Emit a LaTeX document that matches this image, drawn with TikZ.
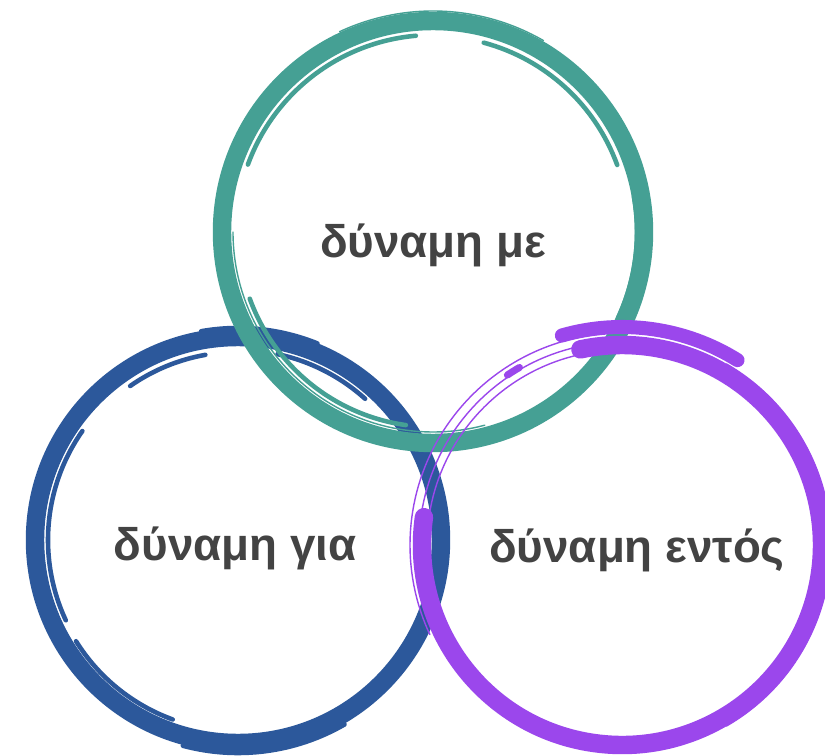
\documentclass[tikz,border=0pt]{standalone}
\usepackage{fontspec}
\setmainfont{Liberation Sans}
\usepackage{tikz}
\usepackage{xcolor}
\definecolor{Teal}{HTML}{45A094}
\definecolor{Navy}{HTML}{2C589B}
\definecolor{Violet}{HTML}{9B47EC}
\definecolor{Ink}{HTML}{434343}
\tikzset{
  band/.style={line width=10.5pt,line cap=round},
  streak/.style={line width=2.6pt,line cap=round},
  hair/.style={line width=0.8pt,line cap=round},
  ringtext/.style={font=\fontsize{26}{30}\selectfont\bfseries,text=Ink,inner sep=0pt}
}

\begin{document}
\begin{tikzpicture}[x=0.02cm,y=0.02cm]
  \useasboundingbox[fill=white] (0,0) rectangle (825,755);
  \coordinate (gia) at (238,215);
  \coordinate (me) at (433,523);
  \coordinate (entos) at (622,210);

  \draw[band,Navy] (gia) circle[radius=203];
  \draw[streak,Navy] (gia) ++(68:212) arc[start angle=68,end angle=100,radius=212];
  \draw[streak,Navy] (gia) ++(48:190) arc[start angle=48,end angle=78,radius=190];
  \draw[streak,Navy] (gia) ++(100:188) arc[start angle=100,end angle=125,radius=188];
  \draw[streak,Navy] (gia) ++(145:190) arc[start angle=145,end angle=205,radius=190];
  \draw[streak,Navy] (gia) ++(212:191) arc[start angle=212,end angle=250,radius=191];
  \draw[streak,Navy] (gia) ++(255:213) arc[start angle=255,end angle=300,radius=213];
  \draw[hair,Navy] (gia) ++(-10:196) arc[start angle=-10,end angle=60,radius=196];
  \draw[hair,Navy] (gia) ++(125:195) arc[start angle=125,end angle=230,radius=195];

  \draw[band,Teal] (me) circle[radius=211];
  \draw[streak,Teal] (me) ++(95:197) arc[start angle=95,end angle=160,radius=197];
  \draw[streak,Teal] (me) ++(20:196) arc[start angle=20,end angle=75,radius=196];
  \draw[streak,Teal] (me) ++(200:195) arc[start angle=200,end angle=262,radius=195];
  \draw[hair,Teal] (me) ++(180:200) arc[start angle=180,end angle=285,radius=200];
  \draw[hair,Teal] (me) ++(60:221) arc[start angle=60,end angle=115,radius=221];
  \draw[streak,Teal] (me) ++(-25:204) arc[start angle=-25,end angle=10,radius=204];

  \draw[hair,Violet] (entos) circle[radius=203];
  \draw[hair,Violet] (entos) ++(95:212) arc[start angle=95,end angle=205,radius=212];
  \draw[hair,Violet] (entos) ++(90:195) arc[start angle=90,end angle=180,radius=195];
  \draw[hair,Violet] (entos) ++(-60:209) arc[start angle=-60,end angle=60,radius=209];
  \draw[band,Violet] (entos) ++(172:200) arc[start angle=172,end angle=462,radius=200];
  \draw[line width=8pt,line cap=round,Violet] (entos) ++(58:218) arc[start angle=58,end angle=106,radius=218];
  \draw[line width=4pt,line cap=round,Violet] (entos) ++(120:205) arc[start angle=120,end angle=124,radius=205];

  \node[ringtext] (meword) at (433,510) {δύναμη με};
  \node[ringtext] (giaword) at (235,207) {δύναμη για};
  \node[ringtext] (entosword) at (637,205) {δύναμη εντός};
\end{tikzpicture}
\end{document}
